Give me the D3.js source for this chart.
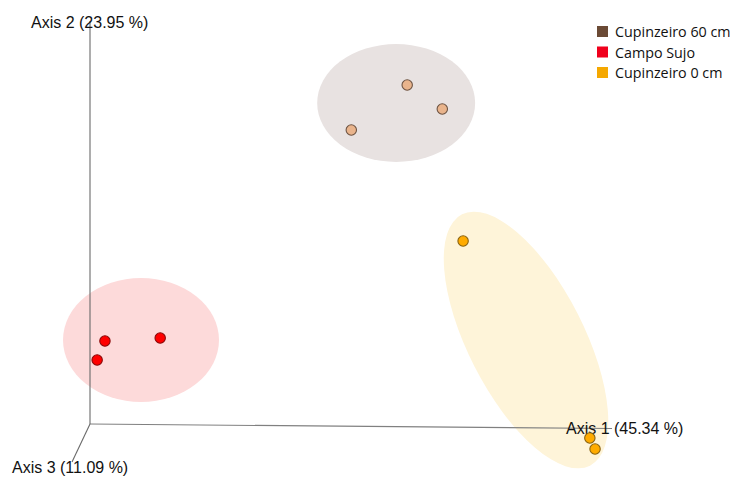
<!DOCTYPE html>
<html>
<head>
<meta charset="utf-8">
<script src="https://cdn.jsdelivr.net/npm/d3@7"></script>
<style>
  html, body { margin: 0; padding: 0; background: #fff; }
</style>
</head>
<body>
<svg id="chart" width="733" height="477"></svg>
<script>
// PCoA ordination: three sample groups projected on axes 1 and 2
const groups = ["Cupinzeiro 60 cm", "Campo Sujo", "Cupinzeiro 0 cm"];
const legendColors = ["#6b4a35", "#f0001c", "#f5a800"];
const pointColors = ["#e9b48c", "#ff0000", "#ffab00"];
const pointStrokes = ["#6e5443", "#8a0a0a", "#8a6412"];
const hullColors = ["#e8e2e1", "#fddada", "#fef4d9"];

const axisLabels = ["Axis 1 (45.34 %)", "Axis 2 (23.95 %)", "Axis 3 (11.09 %)"];

// sample coordinates (axis 1, axis 2) per group
const pc1 = [
  [0.002, 0.088, 0.142],
  [-0.377, -0.292, -0.389],
  [0.174, 0.369, 0.377]
];
const pc2 = [
  [0.141, 0.2085, 0.1725],
  [-0.1755, -0.171, -0.204],
  [-0.0255, -0.321, -0.3375]
];

// confidence ellipses: centre, radii and tilt (degrees)
const ellCx = [0.071, -0.3215, 0.2708];
const ellCy = [0.1815, -0.174, -0.174];
const ellRx = [0.1215, 0.120, 0.0892];
const ellRy = [0.0885, 0.093, 0.2115];
const ellTilt = [0, 0, -27];

const svg = d3.select("#chart");

const x = d3.scaleLinear().domain([-0.4, 0.4]).range([90, 610]);
const y = d3.scaleLinear().domain([-0.3, 0.3]).range([424, 24]);
const pxX = Math.abs(x(1) - x(0));
const pxY = Math.abs(y(1) - y(0));

// ellipses
svg.append("g").selectAll("ellipse")
  .data(groups.map((g, i) => i))
  .join("ellipse")
  .attr("cx", 0).attr("cy", 0)
  .attr("rx", i => ellRx[i] * pxX)
  .attr("ry", i => ellRy[i] * pxY)
  .attr("transform", i => `translate(${x(ellCx[i])},${y(ellCy[i])}) rotate(${ellTilt[i]})`)
  .attr("fill", i => hullColors[i]);

// axis lines of the 3D projection
const origin = [x(-0.4), y(-0.3)];
const axes = svg.append("g").attr("fill", "none").attr("stroke-width", 1.1);
axes.append("line")
  .attr("x1", origin[0]).attr("y1", origin[1])
  .attr("x2", 612).attr("y2", 428.5)
  .attr("stroke", "#808080");
axes.append("line")
  .attr("x1", origin[0]).attr("y1", origin[1])
  .attr("x2", origin[0]).attr("y2", 21)
  .attr("stroke", "#6a6a6a");
axes.append("line")
  .attr("x1", origin[0]).attr("y1", origin[1])
  .attr("x2", 72).attr("y2", 462)
  .attr("stroke", "#6a6a6a");

const lab = svg.append("g")
  .attr("font-family", "'Liberation Sans', Arial, sans-serif")
  .attr("font-size", 16)
  .attr("fill", "#111");
lab.append("text").attr("x", 566).attr("y", 434).text(axisLabels[0]);
lab.append("text").attr("x", 31).attr("y", 28).text(axisLabels[1]);
lab.append("text").attr("x", 12).attr("y", 473).text(axisLabels[2]);

// sample points
const pts = [];
groups.forEach((g, i) => pc1[i].forEach((v, j) => pts.push({ g: i, a: v, b: pc2[i][j] })));
svg.append("g").selectAll("circle")
  .data(pts)
  .join("circle")
  .attr("cx", d => x(d.a))
  .attr("cy", d => y(d.b))
  .attr("r", 5.2)
  .attr("fill", d => pointColors[d.g])
  .attr("stroke", d => pointStrokes[d.g])
  .attr("stroke-width", 1.1);

// legend
const leg = svg.append("g")
  .attr("font-family", "'Open Sans', 'Noto Sans', sans-serif")
  .attr("font-size", 14.3)
  .attr("fill", "#111");
const row = leg.selectAll("g").data(groups).join("g")
  .attr("transform", (d, i) => `translate(597,${26 + i * 20.5})`);
row.append("rect").attr("width", 11).attr("height", 11)
  .attr("fill", (d, i) => legendColors[i]);
row.append("text").attr("x", 18).attr("y", 11).text(d => d);
</script>
</body>
</html>
